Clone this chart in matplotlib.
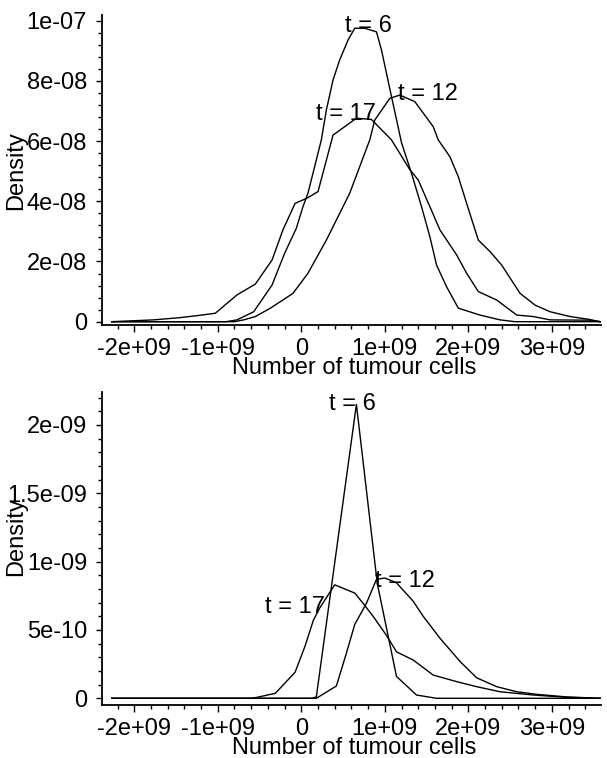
import numpy as np
import matplotlib
matplotlib.use("Agg")
import matplotlib.pyplot as plt
from matplotlib.ticker import MultipleLocator

plt.rcParams['font.family'] = ['Liberation Sans', 'DejaVu Sans']

# x in units of 1e9 cells, density in units of 1e-9 (top) / 1e-10 (bottom)
XT = [-2e9, -1e9, 0, 1e9, 2e9, 3e9]
XT_LABELS = ["-2e+09", "-1e+09", "0", "1e+09", "2e+09", "3e+09"]

# ---- top panel
TOP_YT = [0, 2e-8, 4e-8, 6e-8, 8e-8, 1e-7]
TOP_YT_LABELS = ["0", "2e-08", "4e-08", "6e-08", "8e-08", "1e-07"]

top_t6_x = [-2.27, -0.9, -0.77, -0.57, -0.35, -0.20, -0.06, 0.02, 0.08, 0.24, 0.30,
            0.38, 0.46, 0.56, 0.64, 0.76, 0.90, 0.96, 1.08, 1.20, 1.32, 1.44, 1.54,
            1.62, 1.74, 1.88, 2.14, 2.38, 2.56, 3.58]
top_t6_y = [0, 0, 0.6, 3.3, 12.2, 22.7, 31.0, 38.2, 42.7, 60.4, 70.3,
            80.3, 87.0, 93.6, 97.5, 97.5, 96.3, 90.3, 74.8, 59.5, 49.3, 38.2, 28.2,
            18.8, 11.6, 4.5, 2.2, 0.6, 0, 0]

top_t12_x = [-2.27, -0.8, -0.69, -0.55, -0.37, -0.10, 0.08, 0.30, 0.58, 0.82, 0.88,
             1.06, 1.18, 1.36, 1.58, 1.64, 1.78, 1.88, 1.98, 2.12, 2.26, 2.40, 2.62,
             2.80, 2.98, 3.22, 3.44, 3.58]
top_t12_y = [0, 0, 0.6, 1.7, 4.5, 9.4, 16.1, 27.1, 42.7, 60.4, 67.0,
             74.2, 75.3, 73.1, 64.8, 60.4, 54.8, 48.2, 39.3, 27.1, 23.3, 18.8, 9.4,
             5.5, 3.3, 1.7, 0.8, 0]

top_t17_x = [-2.27, -1.77, -1.47, -1.25, -1.03, -0.77, -0.55, -0.35, -0.22, -0.075,
             0.065, 0.20, 0.38, 0.66, 0.84, 1.08, 1.30, 1.40, 1.54, 1.66, 1.86, 1.98,
             2.12, 2.34, 2.58, 2.78, 2.98, 3.44, 3.58]
top_t17_y = [0, 0.6, 1.3, 2.0, 2.8, 8.9, 12.5, 20.5, 30.5, 39.3,
             41.0, 43.2, 62.0, 67.6, 67.2, 60.4, 50.5, 47.1, 38.2, 30.5, 22.2, 16.1,
             10.0, 7.2, 2.2, 1.7, 0.6, 0.5, 0]

# ---- bottom panel
BOT_YT = [0, 5e-10, 1e-9, 1.5e-9, 2e-9]
BOT_YT_LABELS = ["0", "5e-10", "1e-09", "1.5e-09", "2e-09"]

bot_t6_x = [-2.27, 0.12, 0.18, 0.66, 0.91, 1.14, 1.38, 1.62, 3.58]
bot_t6_y = [0, 0, 0.1, 21.5, 8.4, 1.6, 0.24, 0, 0]

bot_t12_x = [-2.27, 0.18, 0.42, 0.54, 0.64, 0.78, 0.90, 1.00, 1.14, 1.34, 1.46,
             1.66, 1.90, 2.10, 2.34, 2.58, 2.82, 3.18, 3.58]
bot_t12_y = [0, 0, 0.9, 3.3, 5.4, 6.95, 8.7, 8.8, 8.45, 7.1, 6.0,
             4.4, 2.7, 1.5, 0.85, 0.48, 0.29, 0.1, 0]

bot_t17_x = [-2.27, -0.6, -0.53, -0.31, -0.075, 0.044, 0.144, 0.22, 0.40, 0.64,
             0.74, 0.86, 1.02, 1.14, 1.34, 1.58, 1.86, 2.10, 2.38, 2.78, 3.18, 3.58]
bot_t17_y = [0, 0, 0.07, 0.37, 1.9, 3.8, 5.7, 6.6, 8.3, 7.7,
             6.95, 6.0, 4.6, 3.4, 2.8, 1.7, 1.22, 0.85, 0.48, 0.24, 0.07, 0]

# curve labels: (text, x, y baseline)
top_labels = [("t = 6", 0.81, 96.2), ("t = 12", 1.52, 73.7), ("t = 17", 0.533, 67.0)]
bot_labels = [("t = 6", 0.61, 21.1), ("t = 12", 1.24, 8.14), ("t = 17", -0.075, 6.24)]

FS = 17
W, H = 607, 758
fig = plt.figure(figsize=(W / 100, H / 100), dpi=100)


def make_axes(left, right, top, bottom):
    return fig.add_axes([left / W, 1 - bottom / H, (right - left) / W, (bottom - top) / H])


def style(ax, yt, ylabels, yminor, axh):
    for s in ("top", "right"):
        ax.spines[s].set_visible(False)
    for s in ("left", "bottom"):
        ax.spines[s].set_linewidth(1.3)
    ax.set_xticks(XT, XT_LABELS)
    ax.set_yticks(yt, ylabels)
    ax.xaxis.set_minor_locator(MultipleLocator(0.2e9))
    ax.yaxis.set_minor_locator(MultipleLocator(yminor))
    ax.tick_params(axis="x", which="major", length=5, width=1, pad=4.5, labelsize=FS)
    ax.tick_params(axis="y", which="major", length=4, width=1, pad=7, labelsize=FS)
    ax.tick_params(which="minor", length=3, width=1)
    ax.set_xlim(-2.383e9, 3.589e9)
    ax.set_xlabel("Number of tumour cells", fontsize=FS)
    ax.xaxis.set_label_coords(0.505, -32 / axh)


# top axes: left 102.3, right 601, top 15, bottom 325 (px)
ax1 = make_axes(102.3, 601, 15, 325)
for xs, ys in [(top_t6_x, top_t6_y), (top_t12_x, top_t12_y), (top_t17_x, top_t17_y)]:
    ax1.plot(np.array(xs) * 1e9, np.array(ys) * 1e-9, color="black", lw=1.0)
ax1.set_ylim(-1.1e-9, 1.019e-7)
style(ax1, TOP_YT, TOP_YT_LABELS, 4e-9, 310)
for txt, x, y in top_labels:
    ax1.text(x * 1e9, y * 1e-9, txt, ha="center", va="baseline", fontsize=FS)
fig.text(16.5 / W, 1 - 171 / H, "Density", rotation=90, ha="center", va="center", fontsize=FS)

# bottom axes: top 391.7, bottom 705 (px)
ax2 = make_axes(102.3, 601, 391.7, 705)
for xs, ys in [(bot_t6_x, bot_t6_y), (bot_t12_x, bot_t12_y), (bot_t17_x, bot_t17_y)]:
    ax2.plot(np.array(xs) * 1e9, np.array(ys) * 1e-10, color="black", lw=1.0)
ax2.set_ylim(-4.9e-11, 2.243e-9)
style(ax2, BOT_YT, BOT_YT_LABELS, 1e-10, 313.3)
for txt, x, y in bot_labels:
    ax2.text(x * 1e9, y * 1e-10, txt, ha="center", va="baseline", fontsize=FS)
fig.text(16.5 / W, 1 - 536.5 / H, "Density", rotation=90, ha="center", va="center", fontsize=FS)

fig.savefig("out.png", dpi=100)
